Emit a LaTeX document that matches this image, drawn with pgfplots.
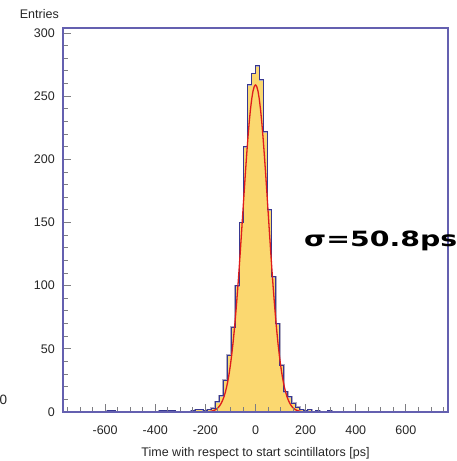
\documentclass[border=0pt]{standalone}
\usepackage{pgfplots}
\usepackage{pgfplotstable}
\pgfplotsset{compat=1.18}
\usepackage{fontspec}
\usepackage{graphicx}
\setmainfont{Liberation Sans}
\newfontfamily\dejab{DejaVu Sans Bold}
\definecolor{framec}{RGB}{100,96,176}
\definecolor{histline}{RGB}{55,55,145}
\definecolor{halo}{RGB}{175,172,195}
\definecolor{histfill}{RGB}{251,216,112}
\definecolor{fitred}{RGB}{222,28,28}
\definecolor{tickgray}{RGB}{125,125,130}
\pgfplotstableread{
x y
-768 0
-592 1
-560 0
-384 1
-320 0
-256 1
-240 2
-208 1
-192 2
-176 3
-160 8
-144 13
-128 25
-112 45
-96 67
-80 100
-64 150
-48 210
-32 259
-16 268
0 274
16 263
32 222
48 160
64 107
80 70
96 37
112 16
128 12
144 7
160 4
176 2
192 1
208 2
224 0
240 1
256 0
288 1
304 0
768 0
}\histdata
\pgfplotstableread{
x y
-200 0.11
-195 0.16
-190 0.24
-185 0.34
-180 0.49
-175 0.69
-170 0.96
-165 1.33
-160 1.8
-155 2.5
-150 3.3
-145 4.4
-140 5.8
-135 7.6
-130 9.8
-125 12.5
-120 15.9
-115 20.0
-110 24.8
-105 30.6
-100 37.3
-95 45.1
-90 53.9
-85 63.9
-80 75.0
-75 87.1
-70 100.2
-65 114.2
-60 128.9
-55 144.1
-50 159.6
-45 174.9
-40 190.0
-35 204.3
-30 217.6
-25 229.5
-20 239.7
-15 247.9
-10 254.0
-5 257.7
0 259.0
5 257.7
10 254.0
15 247.9
20 239.7
25 229.5
30 217.6
35 204.3
40 190.0
45 174.9
50 159.6
55 144.1
60 128.9
65 114.2
70 100.2
75 87.1
80 75.0
85 63.9
90 53.9
95 45.1
100 37.3
105 30.6
110 24.8
115 20.0
120 15.9
125 12.5
130 9.8
135 7.6
140 5.8
145 4.4
150 3.3
155 2.5
160 1.8
165 1.33
170 0.96
175 0.69
180 0.49
185 0.34
190 0.24
195 0.16
200 0.11
}\fitdata
\begin{document}
\begin{tikzpicture}
\begin{axis}[
  at={(63bp,49bp)}, anchor=south west,
  scale only axis, width=385bp, height=384bp,
  xmin=-768, xmax=768, ymin=0, ymax=304,
  axis on top,
  axis line style={draw=framec, line width=1.5bp},
  xtick={-600,-400,...,600}, minor xtick={-750,-700,...,750},
  ytick={0,50,...,300}, minor ytick={0,10,...,300},
  tick align=inside, tick pos=left,
  major tick length=8bp, minor tick length=4.5bp,
  major tick style={draw=tickgray, line width=0.9bp},
  minor tick style={draw=tickgray, line width=0.9bp},
  /pgf/number format/assume math mode=true,
  xticklabel style={font=\fontsize{12.5bp}{15bp}\selectfont, text=black!85, inner sep=0pt, anchor=base, yshift=-23bp},
  yticklabel style={font=\fontsize{12.5bp}{15bp}\selectfont, text=black!85, inner sep=0pt, anchor=east, xshift=-8bp},
  xlabel={Time with respect to start scintillators [ps]},
  every axis x label/.style={at={(axis description cs:0.5,0)}, anchor=base, yshift=-44bp, inner sep=0pt, font=\fontsize{12.5bp}{15bp}\selectfont, text=black!85},
  ylabel={Entries},
  every axis y label/.style={at={(axis description cs:0,1)}, anchor=base east, xshift=-4bp, yshift=9bp, inner sep=0pt, font=\fontsize{12.5bp}{15bp}\selectfont, text=black!85},
]
\addplot[const plot mark left, fill=histfill, draw=none, forget plot] table[x=x,y=y] {\histdata} \closedcycle;
\addplot[const plot mark left, draw=halo, line width=1.9bp, forget plot] table[x=x,y=y] {\histdata};
\addplot[const plot mark left, draw=histline, line width=0.8bp, forget plot] table[x=x,y=y] {\histdata};
\addplot[draw=fitred, line width=1.3bp, line join=round, forget plot] table[x=x,y=y] {\fitdata};
\end{axis}
\node[anchor=base west, inner sep=0pt] at (304bp,214bp) {\scalebox{1.35}[1]{\dejab\fontsize{21bp}{24bp}\selectfont σ=50.8ps}};
\node[anchor=base, inner sep=0pt, font=\fontsize{13.5bp}{15bp}\selectfont, text=black!85] at (3.5bp,56bp) {0};
\pgfresetboundingbox
\path (0,0) rectangle (457bp,461bp);
\end{tikzpicture}
\end{document}
